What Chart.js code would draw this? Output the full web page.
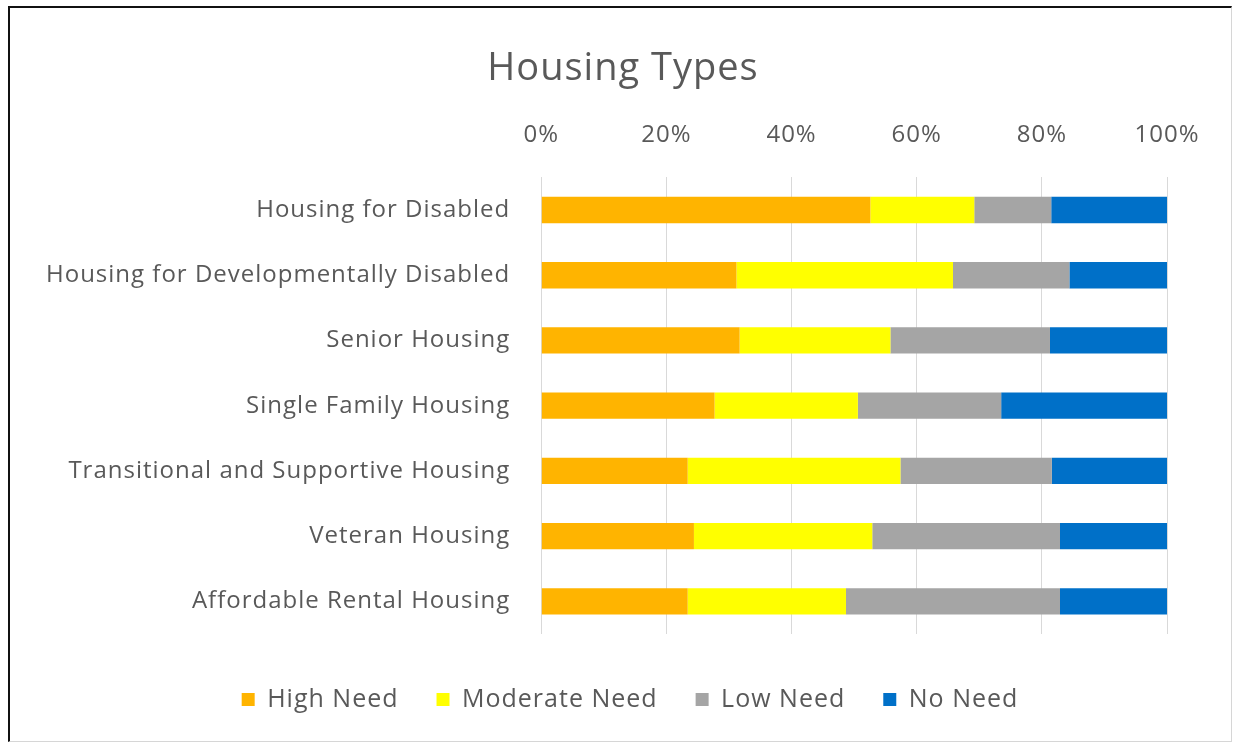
<!DOCTYPE html>
<html>
<head>
<meta charset="utf-8">
<title>Housing Types</title>
<script src="https://cdn.jsdelivr.net/npm/chart.js@4/dist/chart.umd.min.js"></script>
<style>
  html, body { margin: 0; padding: 0; background: #fff; }
  .frame {
    position: absolute; left: 8px; top: 6px;
    width: 1224px; height: 736px;
    border-top: 2px solid #111; border-left: 2px solid #111;
    border-right: 1px solid #d6d6d6; border-bottom: 1px solid #d6d6d6;
    box-sizing: border-box;
  }
  .frame canvas { display: block; }
</style>
</head>
<body>
<div class="frame">
  <canvas id="housingChart" width="1221" height="733"></canvas>
</div>
<script>
// housing categories, top to bottom
const categories = [
  'Housing for Disabled',
  'Housing for Developmentally Disabled',
  'Senior Housing',
  'Single Family Housing',
  'Transitional and Supportive Housing',
  'Veteran Housing',
  'Affordable Rental Housing'
];

// share of responses (%) per need level
const highNeed     = [52.6, 31.2, 31.7, 27.7, 23.4, 24.4, 23.4];
const moderateNeed = [16.6, 34.6, 24.1, 22.9, 34.0, 28.5, 25.3];
const lowNeed      = [12.3, 18.6, 25.5, 22.9, 24.2, 30.0, 34.2];
const noNeed       = [18.5, 15.6, 18.7, 26.5, 18.4, 17.1, 17.1];

const xTicks = [0, 20, 40, 60, 80, 100];

const textColor = '#595959';
const fontFamily = '"Open Sans", "Liberation Sans", sans-serif';

// slightly looser letter spacing for all chart text
const spacing = {
  id: 'spacing',
  beforeLayout(chart) { chart.ctx.letterSpacing = '1px'; },
  beforeDraw(chart) { chart.ctx.letterSpacing = '1px'; }
};

// centre title and legend over the whole frame rather than the padded box,
// and drop the legend a little below the plot
const nudge = {
  id: 'nudge',
  afterLayout(chart) {
    const t = chart.titleBlock, l = chart.legend;
    t.left += 32; t.right += 32;
    l.left += 39; l.right += 39;
    l.top += 15; l.bottom += 15;
  }
};

const ctx = document.getElementById('housingChart');
new Chart(ctx, {
  type: 'bar',
  data: {
    labels: categories,
    datasets: [
      { label: 'High Need', data: highNeed, backgroundColor: '#ffb400' },
      { label: 'Moderate Need', data: moderateNeed, backgroundColor: '#ffff00' },
      { label: 'Low Need', data: lowNeed, backgroundColor: '#a5a5a5' },
      { label: 'No Need', data: noNeed, backgroundColor: '#0070c8' }
    ]
  },
  plugins: [spacing, nudge],
  options: {
    indexAxis: 'y',
    responsive: false,
    animation: false,
    datasets: { bar: { barPercentage: 0.62, categoryPercentage: 0.65 } },
    layout: { padding: { left: 5, right: 64, top: 25, bottom: 34 } },
    scales: {
      x: {
        position: 'top',
        stacked: true,
        min: 0,
        max: 100,
        afterBuildTicks: (axis) => { axis.ticks = xTicks.map(v => ({ value: v })); },
        ticks: {
          color: textColor,
          font: { family: fontFamily, size: 24 },
          padding: 28,
          callback: (v) => v + '%'
        },
        grid: { color: '#d9d9d9', drawTicks: false },
        border: { display: false }
      },
      y: {
        stacked: true,
        ticks: {
          color: textColor,
          font: { family: fontFamily, size: 24 },
          padding: 31
        },
        grid: { display: false, drawTicks: false },
        border: { display: false }
      }
    },
    plugins: {
      title: {
        display: true,
        text: 'Housing Types',
        color: textColor,
        font: { family: fontFamily, size: 38, weight: 'normal' },
        padding: { top: 13, bottom: 1 }
      },
      legend: {
        position: 'bottom',
        labels: {
          color: textColor,
          font: { family: fontFamily, size: 25 },
          boxWidth: 13,
          boxHeight: 13,
          padding: 38
        }
      },
      tooltip: { enabled: false }
    }
  }
});
</script>
</body>
</html>
